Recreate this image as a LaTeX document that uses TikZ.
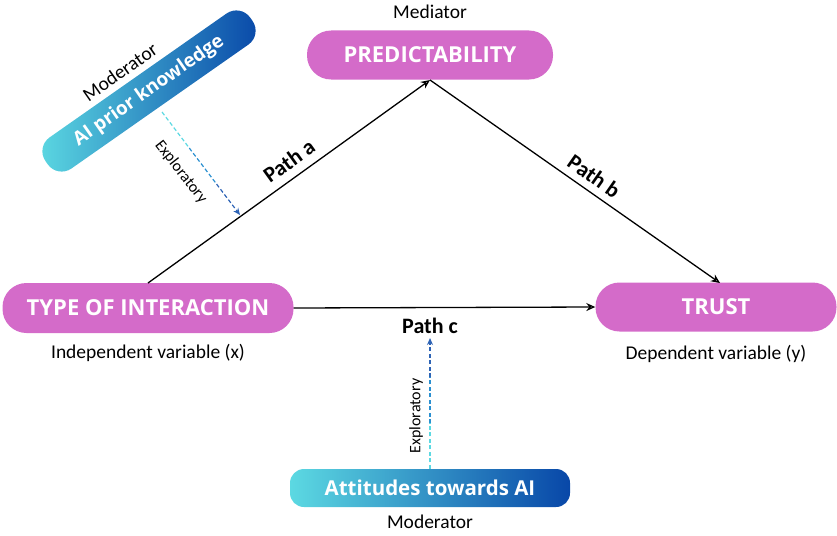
\documentclass[tikz,border=0pt]{standalone}
\usepackage{fontspec}
\setmainfont{Carlito}
\newfontfamily\boxfont{Open Sans}
\usetikzlibrary{arrows.meta,calc}
\definecolor{pill}{HTML}{D46BC9}
\definecolor{gcyan}{HTML}{5CD9E2}
\definecolor{gblue}{HTML}{0847A8}
\definecolor{gmid}{HTML}{2A8FD0}
\begin{document}
\begin{tikzpicture}[x=1pt,y=-1pt,
  pillbox/.style={fill=pill,rounded corners=24pt,text=white,font=\boxfont\bfseries\fontsize{22}{26}\selectfont,inner sep=0pt,anchor=center},
  gradbox/.style={left color=gcyan,right color=gblue,rounded corners=14pt,text=white,font=\boxfont\bfseries\fontsize{20.5}{24}\selectfont,inner sep=0pt,anchor=center},
  lab/.style={font=\fontsize{19.5}{22}\selectfont,inner sep=0pt},
  pathlab/.style={font=\bfseries\fontsize{22}{25}\selectfont,inner sep=0pt},
  arr/.style={line width=1.3pt,-{Stealth[length=9pt,width=8pt,open]}},
  expl/.style={line width=1.2pt,dashed,dash pattern=on 4pt off 2.5pt},
  explab/.style={font=\fontsize{16}{19}\selectfont,inner sep=0pt}
]
\useasboundingbox (0,0) rectangle (837,535);
\node[pillbox,minimum width=246pt,minimum height=49pt] (pred) at (430,55) {PREDICTABILITY};
\node[pillbox,minimum width=291pt,minimum height=50pt] (type) at (148,308) {TYPE OF INTERACTION};
\node[pillbox,minimum width=241pt,minimum height=49pt] (trust) at (716,307) {TRUST};
\node[gradbox,minimum width=280pt,minimum height=38pt] (att) at (430,488) {Attitudes towards AI};
\node[gradbox,rotate=35,minimum width=250pt,minimum height=38pt,rounded corners=17pt,font=\boxfont\bfseries\fontsize{19}{23}\selectfont] (prior) at (149,91) {AI prior knowledge};

\node[lab] (med) at (430,12) {Mediator};
\node[lab] (indep) at (148,353) {Independent variable (x)};
\node[lab] (dep) at (716,354) {Dependent variable (y)};
\node[lab] (mod2) at (430,522) {Moderator};
\node[lab,rotate=35] (mod1) at (120,72) {Moderator};

\coordinate (pa) at (148,283);
\coordinate (pb) at (720,283);
\coordinate (predb) at (430,80);
\draw[arr] (pa) -- (predb);
\draw[arr] (predb) -- (pb);
\draw[arr] (type.east) -- (trust.west);
\node[pathlab,rotate=35.7] (lpa) at (289,161) {Path a};
\node[pathlab,rotate=-35] (lpb) at (594,176) {Path b};
\node[pathlab] (lpc) at (430,326) {Path c};

% exploratory arrow 1
\coordinate (e1s) at (162,112);
\coordinate (e1e) at (240,215);
\draw[expl,gcyan] (e1s) -- ($(e1s)!0.35!(e1e)$);
\draw[expl,gmid] ($(e1s)!0.35!(e1e)$) -- ($(e1s)!0.7!(e1e)$);
\draw[expl,gblue!85,-{Stealth[length=7pt,width=6pt]}] ($(e1s)!0.7!(e1e)$) -- (e1e);
\node[explab,rotate=-52] (ex1) at (181,172) {Exploratory};

% exploratory arrow 2
\coordinate (e2e) at (430,338);
\draw[expl,gcyan] (att.north) -- ($(att.north)!0.35!(e2e)$);
\draw[expl,gmid] ($(att.north)!0.35!(e2e)$) -- ($(att.north)!0.7!(e2e)$);
\draw[expl,gblue!85,-{Stealth[length=7pt,width=6pt]}] ($(att.north)!0.7!(e2e)$) -- (e2e);
\node[explab,rotate=90] (ex2) at (416,416) {Exploratory};
\end{tikzpicture}
\end{document}
